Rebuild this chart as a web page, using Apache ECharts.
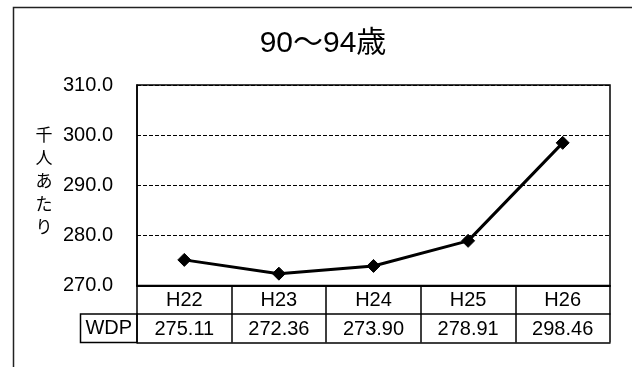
<!DOCTYPE html>
<html><head><meta charset="utf-8">
<script src="https://cdn.jsdelivr.net/npm/echarts@6/dist/echarts.min.js"></script>
<style>html,body{margin:0;padding:0;background:#fff}#c{width:632px;height:367px}</style>
</head><body><div id="c"></div>
<script>
const title = "90〜94歳";
const categories = ["H22", "H23", "H24", "H25", "H26"];
const wdpValues = [275.11, 272.36, 273.90, 278.91, 298.46];
const seriesName = "WDP";
const yTicks = [270, 280, 290, 300, 310];
const yName = "千人あたり";

const FONT = "'Liberation Sans', Arial, 'Noto Sans CJK JP', sans-serif";
const chart = echarts.init(document.getElementById('c'), null, {renderer: 'canvas'});
const GRID = {left: 137, top: 85, right: 22, bottom: 81.5};
const ROW = 28.5;

chart.setOption({
  animation: false,
  backgroundColor: '#fff',
  graphic: [
    {type: 'rect', left: 11, top: 5, shape: {width: 620, height: 420},
     style: {fill: 'none', stroke: '#222', lineWidth: 1.5}, silent: true, z: 0},
    {type: 'text', x: 323, y: 44,
     style: {text: title, fontFamily: FONT, fontSize: 30, fill: '#000', align: 'center', verticalAlign: 'middle'}},
    {type: 'rect', shape: {x: 80.5, y: 367 - GRID.bottom + ROW, width: GRID.left - 80.5, height: ROW},
     style: {fill: '#fff', stroke: '#000', lineWidth: 1.5}, silent: true},
    {type: 'text', x: (80.5 + GRID.left) / 2, y: 367 - GRID.bottom + ROW * 1.5,
     style: {text: seriesName, fontFamily: FONT, fontSize: 20, fill: '#000', align: 'center', verticalAlign: 'middle'}},
    {type: 'text', x: 44, y: 182,
     style: {text: yName.split('').join('\n'), fontFamily: FONT, fontSize: 17, lineHeight: 23, fill: '#000', align: 'center', verticalAlign: 'middle'}}
  ],
  grid: Object.assign({show: true, borderColor: '#000', borderWidth: 1.5, backgroundColor: 'transparent'}, GRID),
  xAxis: [
    {
      type: 'category', data: categories, position: 'bottom', boundaryGap: true,
      axisLine: {show: true, lineStyle: {color: '#000', width: 2}},
      axisTick: {show: true, length: ROW, inside: false, lineStyle: {color: '#000', width: 1.5}},
      axisLabel: {color: '#000', fontFamily: FONT, fontSize: 20, margin: 5},
      splitLine: {show: false}
    },
    {
      type: 'category', data: wdpValues.map(v => v.toFixed(2)), position: 'bottom', offset: ROW, boundaryGap: true,
      axisLine: {show: true, lineStyle: {color: '#000', width: 1.5}},
      axisTick: {show: true, length: ROW, inside: false, lineStyle: {color: '#000', width: 1.5}},
      axisLabel: {color: '#000', fontFamily: FONT, fontSize: 20, margin: 5},
      splitLine: {show: false}
    },
    {
      type: 'category', data: categories, position: 'bottom', offset: ROW * 2, boundaryGap: true,
      axisLine: {show: true, lineStyle: {color: '#000', width: 1.5}},
      axisTick: {show: false}, axisLabel: {show: false}, splitLine: {show: false}
    }
  ],
  yAxis: {
    type: 'value', min: yTicks[0], max: yTicks[yTicks.length - 1], interval: 10,
    axisLine: {show: true, lineStyle: {color: '#000', width: 1.5}},
    axisTick: {show: false},
    axisLabel: {color: '#000', fontFamily: FONT, fontSize: 20, margin: 24, formatter: v => v.toFixed(1)},
    splitLine: {show: true, lineStyle: {color: '#000', width: 1, type: [4, 2]}}
  },
  series: [{
    name: seriesName, type: 'line', data: wdpValues, xAxisIndex: 0,
    symbol: 'diamond', symbolSize: 13, showSymbol: true,
    lineStyle: {color: '#000', width: 3},
    itemStyle: {color: '#000', borderColor: '#000'}
  }]
});
</script></body></html>
